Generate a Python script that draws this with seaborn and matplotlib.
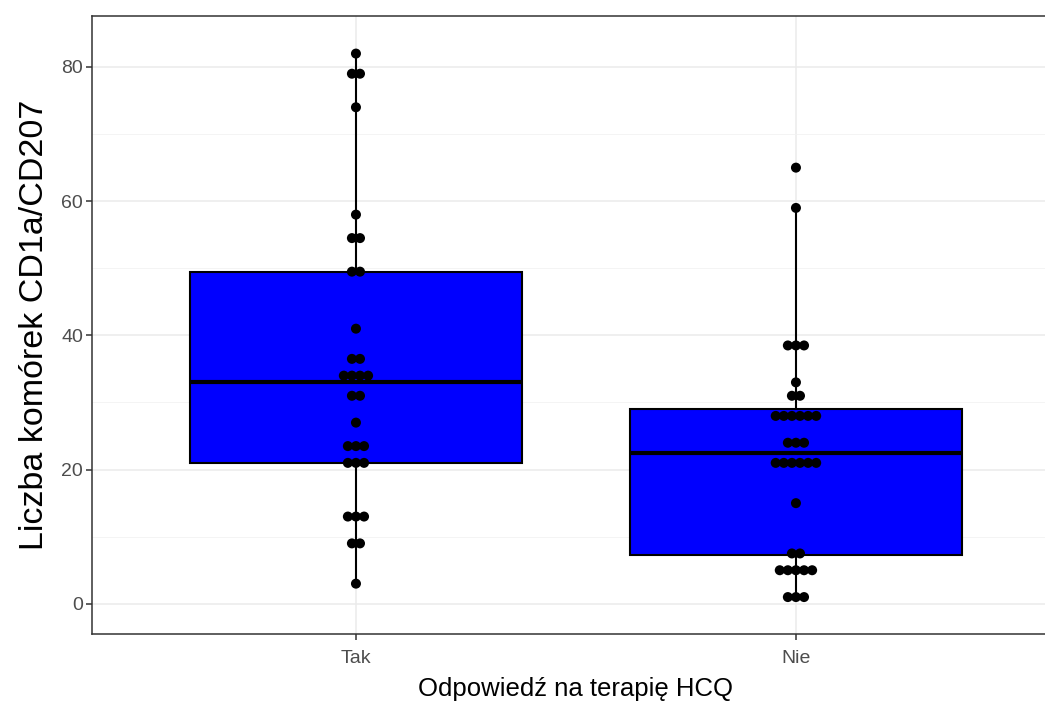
import numpy as np
import pandas as pd
import matplotlib
matplotlib.use("Agg")
import matplotlib.pyplot as plt
import seaborn as sns

# ---- data ----
categories = ["Tak", "Nie"]
tak_values = [3, 9, 9, 13, 13, 13, 21, 21, 21, 23.5, 23.5, 23.5, 27,
              30.5, 31.5, 33, 34, 35, 35, 36.5, 36.5, 41, 49.5, 49.5,
              54.5, 54.5, 58, 74, 79, 79, 82]
nie_values = [1, 1, 1, 4.5, 5, 5, 5, 5.5, 7, 8, 15, 21, 21, 21, 21, 21, 21,
              24, 24, 24, 27, 27.5, 28, 28.5, 29, 29, 30.5, 31.5, 33,
              38.5, 38.5, 38.5, 59, 65]
x_label = "Odpowiedź na terapię HCQ"
y_label = "Liczba komórek CD1a/CD207"
y_ticks = [0, 20, 40, 60, 80]

df = pd.DataFrame({
    "grupa": ["Tak"] * len(tak_values) + ["Nie"] * len(nie_values),
    "wartosc": tak_values + nie_values,
})

sns.set_theme(style="white")
plt.rcParams["font.family"] = ["Liberation Sans", "DejaVu Sans"]

fig = plt.figure(figsize=(10.45, 7.02), dpi=100)
ax = fig.add_axes([0.088, 0.0969, 0.9263, 0.8803])

ax.set_axisbelow(True)
sns.boxplot(data=df, x="grupa", y="wartosc", order=categories, ax=ax,
            color="#0000FF", saturation=1, linecolor="black", linewidth=1.5,
            width=0.755, showfliers=False, showcaps=False,
            medianprops={"linewidth": 3.0, "color": "black"},
            whiskerprops={"linewidth": 1.5, "color": "black"},
            boxprops={"edgecolor": "black", "linewidth": 1.5})


def dot_layout(vals, binwidth=2.4):
    """ggplot-like dotdensity binning: returns (center, count) pairs."""
    vals = sorted(vals)
    bins = []
    cur = [vals[0]]
    for v in vals[1:]:
        if v >= cur[0] + binwidth:
            bins.append(cur)
            cur = [v]
        else:
            cur.append(v)
    bins.append(cur)
    return [((min(b) + max(b)) / 2.0, len(b)) for b in bins]


dx = 0.0184
for i, cat in enumerate(categories):
    vals = df.loc[df["grupa"] == cat, "wartosc"].tolist()
    xs, ys = [], []
    for center, n in dot_layout(vals):
        for j in range(n):
            xs.append(i + (j - (n - 1) / 2.0) * dx)
            ys.append(center)
    ax.scatter(xs, ys, s=52, color="black", edgecolor="none", zorder=5)

ax.set_xlim(-0.6, 1.6)
ax.set_ylim(-4.5, 87.6)
ax.set_yticks(y_ticks)
ax.set_yticks([10, 30, 50, 70], minor=True)
ax.grid(True, which="major", color="#EBEBEB", linewidth=1.1)
ax.grid(True, which="minor", axis="y", color="#F2F2F2", linewidth=0.6)

for s in ax.spines.values():
    s.set_color("#333333")
    s.set_linewidth(1.1)

ax.tick_params(axis="both", which="major", length=4, width=1.1,
               color="#333333", labelcolor="#4D4D4D", labelsize=14, pad=2.5,
               left=True, bottom=True)
ax.tick_params(axis="x", which="major", pad=7.5)
ax.tick_params(axis="y", which="minor", length=0)

ax.set_xlabel(x_label, fontsize=18.5, color="black", labelpad=7)
ax.set_ylabel(y_label, fontsize=24.5, color="black", labelpad=8)

fig.savefig("out.png", dpi=100)
